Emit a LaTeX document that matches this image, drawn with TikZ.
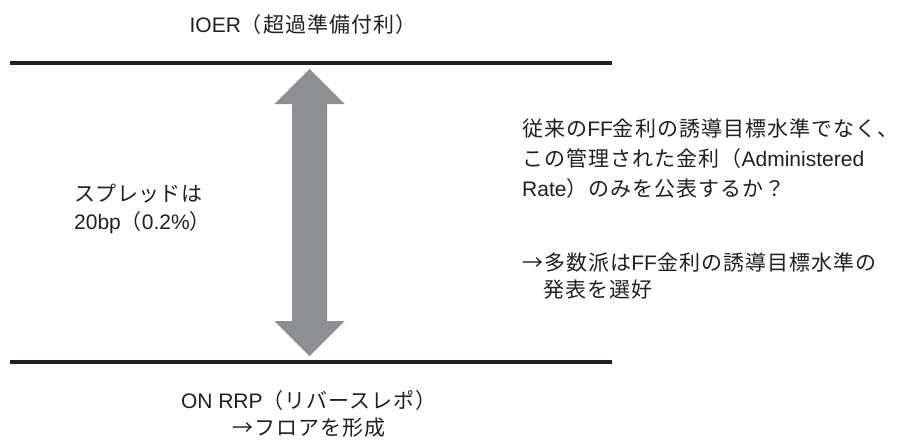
\documentclass[tikz,border=0pt]{standalone}
\usepackage{fontspec}
\setmainfont{Noto Sans CJK JP}[LetterSpace=5]
\newfontfamily\lat{Liberation Sans}
\definecolor{txt}{HTML}{231F20}
\definecolor{arrowgray}{HTML}{8E8F92}
\tikzset{
  lbl/.style={inner sep=0pt, text=txt, font=\fontsize{21}{30}\selectfont},
  rule/.style={line width=4pt, draw=txt},
  bigarrow/.style={fill=arrowgray, draw=none}
}
\begin{document}
\begin{tikzpicture}[x=1pt,y=-1pt]
\useasboundingbox (0,0) rectangle (899,442);
% rules
\coordinate (t1) at (10,63);
\coordinate (t2) at (612,63);
\coordinate (b1) at (10,362);
\coordinate (b2) at (612,362);
\draw[rule] (t1) -- (t2);
\draw[rule] (b1) -- (b2);
% double arrow
\fill[bigarrow] (309.5,69) -- (344.5,104) -- (327,104) -- (327,321) -- (344.5,321)
  -- (309.5,356) -- (274.5,321) -- (292,321) -- (292,104) -- (274.5,104) -- cycle;
% texts
\node[lbl] (ioer) at (303,25) {{\lat IOER}（超過準備付利）};
\node[lbl, anchor=north west, align=left, font=\fontsize{21}{28}\selectfont] (spread) at (74,184) {{\addfontfeature{LetterSpace=2}スプレッドは}\\{\lat 20bp}（{\lat 0.2\%}）};
\node[lbl, anchor=north west, align=left] (q) at (522,119) {従来の{\lat FF}金利の誘導目標水準でなく、\\この管理された金利（{\lat Administered}\\{\lat Rate}）のみを公表するか？};
\node[lbl, anchor=north west, align=left, font=\fontsize{21}{27}\selectfont] (ans) at (522,253) {→多数派は{\lat FF}金利の誘導目標水準の\\\hspace{1em}発表を選好};
\node[lbl, align=center, font=\fontsize{21}{27}\selectfont] (onrrp) at (309,414) {{\lat ON RRP}（リバースレポ）\\→フロアを形成};
\end{tikzpicture}
\end{document}
